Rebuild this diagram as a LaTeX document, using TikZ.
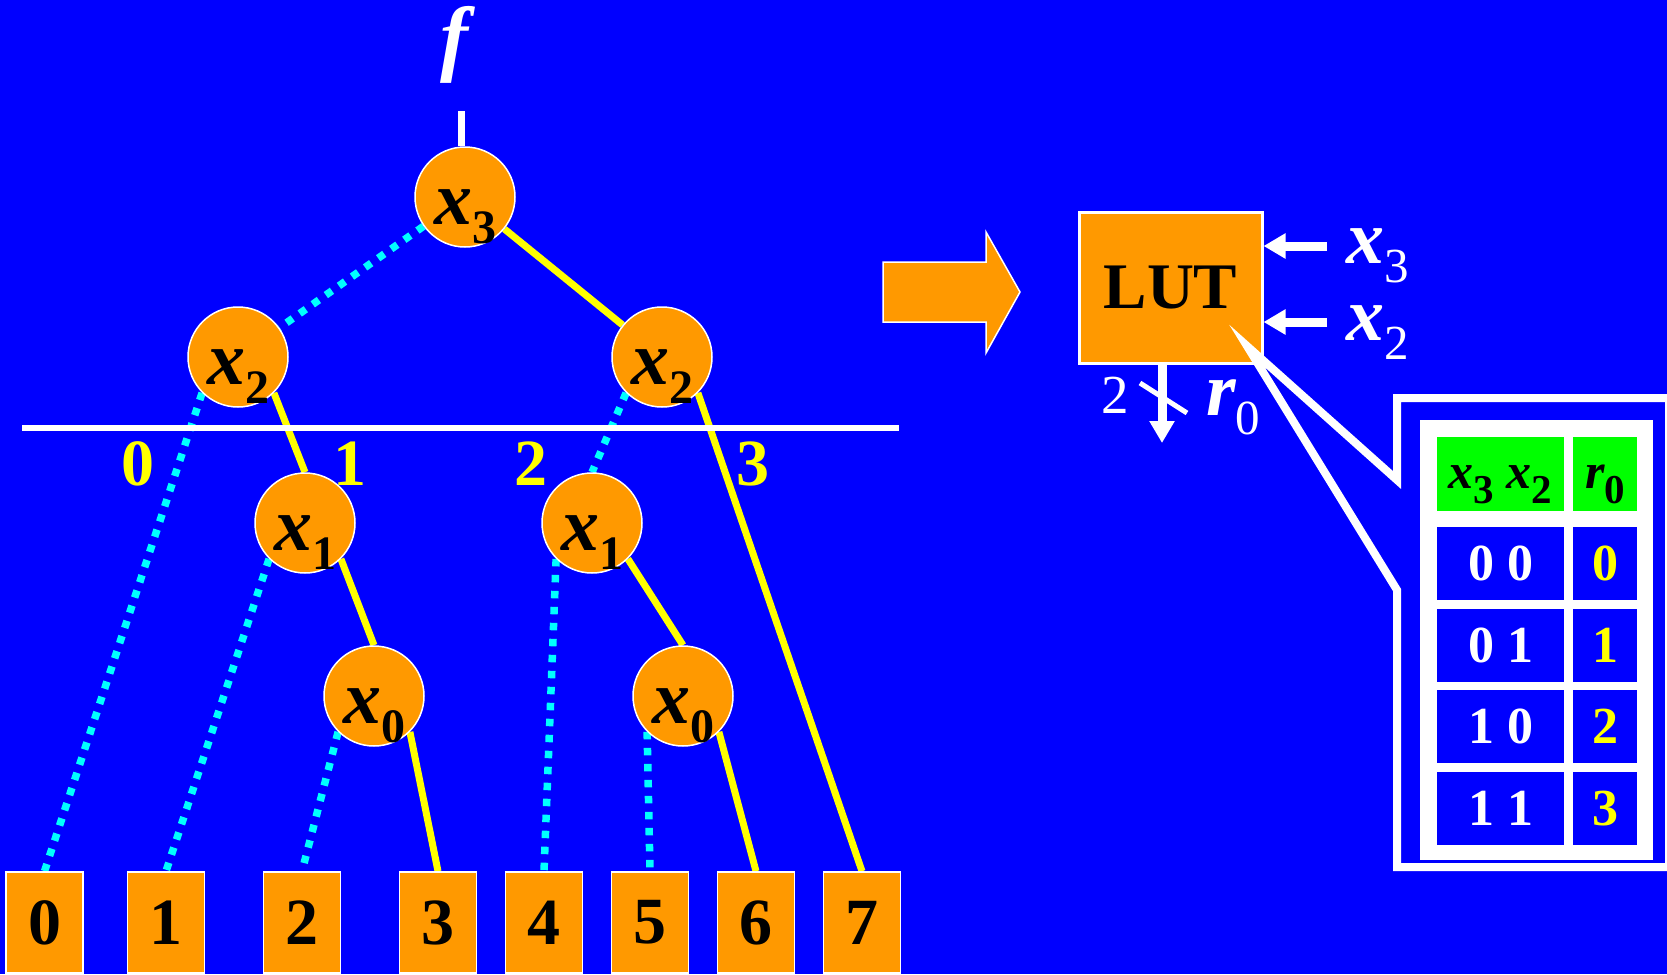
\documentclass[tikz,border=0pt]{standalone}
\usepackage{fontspec}
\setmainfont{Liberation Serif}
\usetikzlibrary{arrows.meta, positioning}

\definecolor{bg}{HTML}{0000FF}
\definecolor{amber}{HTML}{FF9900}
\definecolor{lemon}{HTML}{FFFF00}
\definecolor{aqua}{HTML}{00FFFF}
\definecolor{lime}{HTML}{00FF00}

\pgfdeclarelayer{back}
\pgfdeclarelayer{wires}
\pgfsetlayers{back,wires,main}

\newcommand\sz[1]{\fontsize{#1}{#1}\selectfont}
% variable with its index set low
\newcommand\var[2]{{\sz{76pt}\bfseries\itshape #1}\raisebox{-19pt}{\sz{48pt}\bfseries #2}}
\newcommand\nvar[1]{\raisebox{-27pt}[0pt][0pt]{\var{x}{#1}}}
\newcommand\pvar[2]{{\sz{76pt}\bfseries\itshape #1}\raisebox{-19pt}{\sz{49pt}#2}}
\newcommand\hvar[2]{{\sz{50pt}\bfseries\itshape #1}\raisebox{-15pt}{\sz{41pt}\bfseries #2}}

\tikzstyle{bdd-node} = [circle, minimum size=100pt, inner sep=0pt, fill=amber, draw=white, line width=1.5pt]
\tikzstyle{leaf-box} = [rectangle, minimum width=77pt, minimum height=101pt, inner sep=0pt, fill=amber, draw=white, line width=1.5pt, font=\sz{66pt}\bfseries]
\tikzstyle{then-edge} = [lemon, line width=7pt]
\tikzstyle{else-edge} = [aqua, line width=7.5pt, dash pattern=on 7.5pt off 8.5pt]
\tikzstyle{cut-label} = [lemon, font=\sz{66pt}\bfseries]
\tikzstyle{lut-box} = [rectangle, minimum width=183pt, minimum height=151pt, inner sep=0pt, fill=amber, draw=white, line width=3pt, font=\sz{65pt}\bfseries]
\tikzstyle{pin-arrow} = [white, line width=9pt, -{Triangle[length=22pt,width=24pt]}]
\tikzstyle{pin-label} = [white, inner sep=0pt]
\tikzstyle{tab-cell} = [rectangle, minimum width=127pt, minimum height=73pt, inner sep=0pt, fill=bg, text=white, font=\sz{52pt}\bfseries]
\tikzstyle{tab-cell-r} = [tab-cell, minimum width=64pt, text=lemon]
\tikzstyle{tab-head} = [tab-cell, minimum height=74pt, fill=lime, text=black, font=\sz{50pt}]

\begin{document}
\begin{tikzpicture}[x=1pt, y=-1pt]

\useasboundingbox (0,0) rectangle (1667,974);
\begin{pgfonlayer}{back}
\fill[bg] (0,0) rectangle (1667,974);
\end{pgfonlayer}

% Decision diagram nodes
\node[bdd-node] (x3) at (465,197) {\nvar{3}};
\node[bdd-node] (x2-left) at (238,357) {\nvar{2}};
\node[bdd-node] (x2-right) at (662,357) {\nvar{2}};
\node[bdd-node] (x1-left) at (305,523) {\nvar{1}};
\node[bdd-node] (x1-right) at (592,523) {\nvar{1}};
\node[bdd-node] (x0-left) at (374,696) {\nvar{0}};
\node[bdd-node] (x0-right) at (683,696) {\nvar{0}};

% Terminals
\node[leaf-box] (leaf0) at (44.5,922.5) {0};
\node[leaf-box] (leaf1) at (166,922.5) {1};
\node[leaf-box] (leaf2) at (302,922.5) {2};
\node[leaf-box] (leaf3) at (438,922.5) {3};
\node[leaf-box] (leaf4) at (544,922.5) {4};
\node[leaf-box] (leaf5) at (650,922.5) {5};
\node[leaf-box] (leaf6) at (756,922.5) {6};
\node[leaf-box] (leaf7) at (862,922.5) {7};

% Function output
\node[text=white, font=\sz{84pt}\bfseries\itshape] (f) at (454,45) {f};
\coordinate (f-stub) at (461,111);
\draw[white, line width=7pt] (f-stub) -- (f-stub |- x3.north);

% Edges - dotted for 0, solid for 1
\begin{pgfonlayer}{wires}
\draw[else-edge] (x3) -- (x2-left);
\draw[then-edge] (x3) -- (x2-right);
\draw[else-edge] (x2-left.south west) -- (leaf0.north);
\draw[then-edge] (x2-left.south east) -- (x1-left.north);
\draw[else-edge] (x1-left.south west) -- (leaf1.north);
\draw[then-edge] (x1-left.south east) -- (x0-left.north);
\draw[else-edge] (x0-left.south west) -- (leaf2.north);
\draw[then-edge] (x0-left.south east) -- (leaf3.north);
\draw[else-edge] (x2-right.south west) -- (x1-right.north);
\draw[then-edge] (x2-right.south east) -- (leaf7.north);
\draw[else-edge] (x1-right.south west) -- (leaf4.north);
\draw[then-edge] (x1-right.south east) -- (x0-right.north);
\draw[else-edge] (x0-right.south west) -- (leaf5.north);
\draw[then-edge] (x0-right.south east) -- (leaf6.north);
\end{pgfonlayer}

% Cut below the x2 level
\draw[white, line width=6pt] (22,428) -- (899,428);
\node[cut-label] (cut0) at (138,464) {0};
\node[cut-label] (cut1) at (350,464) {1};
\node[cut-label] (cut2) at (531,464) {2};
\node[cut-label] (cut3) at (753,464) {3};

% Block arrow
\filldraw[fill=amber, draw=white, line width=1.5pt] (883,262) -- (986,262) -- (986,232) -- (1020,292) -- (986,353) -- (986,322) -- (883,322) -- cycle;

% LUT with its pins
\node[lut-box] (lut) at (1170.5,287.5) {LUT};
\coordinate (in-x3) at (1327,246);
\coordinate (in-x2) at (1327,322);
\coordinate (out-r0) at (1162,443);
\draw[pin-arrow] (in-x3) -- (in-x3 -| lut.east);
\draw[pin-arrow] (in-x2) -- (in-x2 -| lut.east);
\draw[pin-arrow] (out-r0 |- lut.south) -- (out-r0);
\draw[white, line width=5pt] (1140,383) -- (1187,413);
\node[pin-label, anchor=base west] (lbl-x3) at (1346,263) {\pvar{x}{3}};
\node[pin-label, anchor=base west] (lbl-x2) at (1346,340) {\pvar{x}{2}};
\node[pin-label, anchor=base west] (lbl-r0) at (1206,415) {\pvar{r}{0}};
\node[pin-label, anchor=base west, font=\sz{55pt}] (bus-width) at (1101,413) {2};

% Callout frame
\coordinate (tip) at (1247,346);
\draw[white, line width=8pt, line join=miter] (tip) -- (1397,480) -- (1397,398) -- (1669,398) -- (1669,867) -- (1397,867) -- (1397,590) -- cycle;

% Truth table
\node[fill=white, minimum width=233pt, minimum height=440pt, inner sep=0pt] (tbl) at (1536.5,640) {};
\node[tab-head] (h-in) at (1500.5,474) {\raisebox{-14pt}[0pt][0pt]{\hvar{x}{3} \hvar{x}{2}}};
\node[tab-head, minimum width=64pt] (h-out) at (1605,474) {\raisebox{-14pt}[0pt][0pt]{\hvar{r}{0}}};
\node[tab-cell, below=16pt of h-in] (c1-in) {0 0};
\node[tab-cell-r, below=16pt of h-out] (c1-out) {0};
\node[tab-cell, below=8pt of c1-in] (c2-in) {0 1};
\node[tab-cell-r, below=8pt of c1-out] (c2-out) {1};
\node[tab-cell, below=8pt of c2-in] (c3-in) {1 0};
\node[tab-cell-r, below=8pt of c2-out] (c3-out) {2};
\node[tab-cell, below=8pt of c3-in] (c4-in) {1 1};
\node[tab-cell-r, below=8pt of c3-out] (c4-out) {3};

\end{tikzpicture}
\end{document}
